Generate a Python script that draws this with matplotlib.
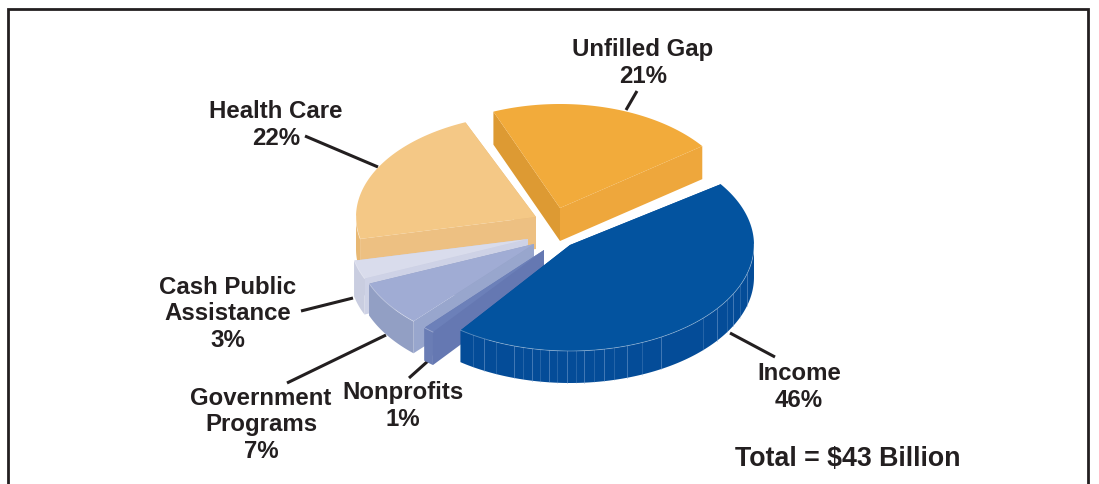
import numpy as np
import matplotlib
matplotlib.use("Agg")
import matplotlib.pyplot as plt
from matplotlib.patches import Polygon

plt.rcParams['font.family'] = ['Liberation Sans', 'DejaVu Sans']

# data
categories = ["Income", "Nonprofits", "Government\nPrograms", "Cash Public\nAssistance", "Health Care", "Unfilled Gap"]
shares = [46, 1, 7, 3, 22, 21]
total_label = "Total = $43 Billion"

# geometry/style per slice: cx, cy, rx, ry, rotation, span scale, depth
geom = [
    (570, 245, 184, 106, -7.0, 0.975, 32),
    (544, 250, 178, 105, -5.0, 1.0, 33),
    (534, 244, 178, 105, -5.4, 1.0, 32),
    (528, 239, 178, 100, -4.3, 1.0, 36),
    (536, 217, 180, 103, -4.5, 1.0, 32),
    (560, 208, 177, 104, -5.5, 1.0, 33),
]
top_c = ["#03539f", "#6c80b9", "#a0acd4", "#d9dcec", "#f4c886", "#f2ab3b"]
rim_c = ["#044c98", "#6a7db5", "#929fc4", "#c9cde0", "#e8b873", "#e5a238"]
start_c = ["#044c98", "#6578b2", "#98a6cd", "#ced2e6", "#edc082", "#dd9a33"]
end_c = ["#044c98", "#6679b3", "#929fc4", "#c9cde0", "#e8b873", "#eea73c"]
draw_order = [4, 3, 2, 1, 5, 0]
stripe_x = [473, 484, 496, 514, 523, 532, 540, 549, 557, 567, 576, 584, 594, 604, 614, 627,
            642, 661, 703, 717, 727, 733, 740, 747]
leaders = [(626, 110, 637, 91), (305, 136, 378, 167), (301, 311, 353, 298),
           (287, 383, 386, 335), (409, 378, 428, 361), (730, 333, 775, 357)]
label_pos = [(799, 387), (403, 406), (261, 425), (228, 314), (276, 125), (643, 63)]

fig = plt.figure(figsize=(10.99, 4.84), dpi=100)
ax = fig.add_axes([0, 0, 1, 1])
ax.set_xlim(0, 1099)
ax.set_ylim(484, 0)
ax.axis("off")

# frame
ax.plot([8.0, 8.0, 1088.0, 1088.0], [484, 9.0, 9.0, 484], color="#231f20", lw=2.0, solid_joinstyle="miter")

# slice angles, clockwise from the first slice
edges = 42 - np.cumsum([0] + shares) * 3.6


def P(g, a):
    cx, cy, rx, ry = g[:4]
    r = np.radians(a)
    return cx + rx * np.cos(r), cy - ry * np.sin(r)


for i in draw_order:
    g = geom[i]
    cx, cy, rx, ry, rot, sc, d = g
    z = 2 + draw_order.index(i)
    a0 = edges[i] + rot
    a1 = a0 - (edges[i] - edges[i + 1]) * sc
    t = np.linspace(a0, a1, 160)
    xs, ys = P(g, t)
    # side faces at the two cut edges; the far one goes underneath
    ax.add_patch(Polygon([(cx, cy), (xs[-1], ys[-1]), (xs[-1], ys[-1] + d), (cx, cy + d)],
                         fc=end_c[i], ec="none", zorder=z))
    ax.add_patch(Polygon([(cx, cy), (xs[0], ys[0]), (xs[0], ys[0] + d), (cx, cy + d)],
                         fc=start_c[i], ec="none", zorder=z + 0.05))
    # rim, only where it faces the viewer
    rm = np.sin(np.radians(t)) <= 0.02
    if rm.any():
        xr, yr = xs[rm], ys[rm]
        ax.add_patch(Polygon(np.r_[np.c_[xr, yr], np.c_[xr[::-1], yr[::-1] + d]],
                             fc=rim_c[i], ec="none", zorder=z + 0.1))
    # top
    ax.add_patch(Polygon(np.r_[[(cx, cy)], np.c_[xs, ys]], fc=top_c[i], ec="none", zorder=z + 0.2))
    if rm.any():
        ax.plot(xr, yr, color="white", alpha=0.35, lw=0.6, zorder=z + 0.3)

# income rim facet stripes
g = geom[0]
for n, x in enumerate(stripe_x):
    c = (x - g[0]) / g[2]
    yy = g[1] + g[3] * np.sqrt(1 - c ** 2)
    ax.plot([x, x], [yy, yy + g[6]], color="#8fb0d8", alpha=0.45 if n % 2 else 0.25, lw=0.7,
            zorder=2 + draw_order.index(0) + 0.3)

# leaders
for x0, y0, x1, y1 in leaders:
    ax.plot([x0, x1], [y0, y1], color="#231f20", lw=2.2, solid_capstyle="butt", zorder=1)

# labels
for (x, y), c, v in zip(label_pos, categories, shares):
    ax.text(x, y, f"{c}\n{v}%", ha="center", va="center", fontsize=17.25, fontweight="bold",
            color="#231f20", linespacing=1.17, zorder=20)
ax.text(848, 459, total_label, ha="center", va="center", fontsize=19.3, fontweight="bold",
        color="#231f20", zorder=20)

fig.savefig("out.png", dpi=100)
